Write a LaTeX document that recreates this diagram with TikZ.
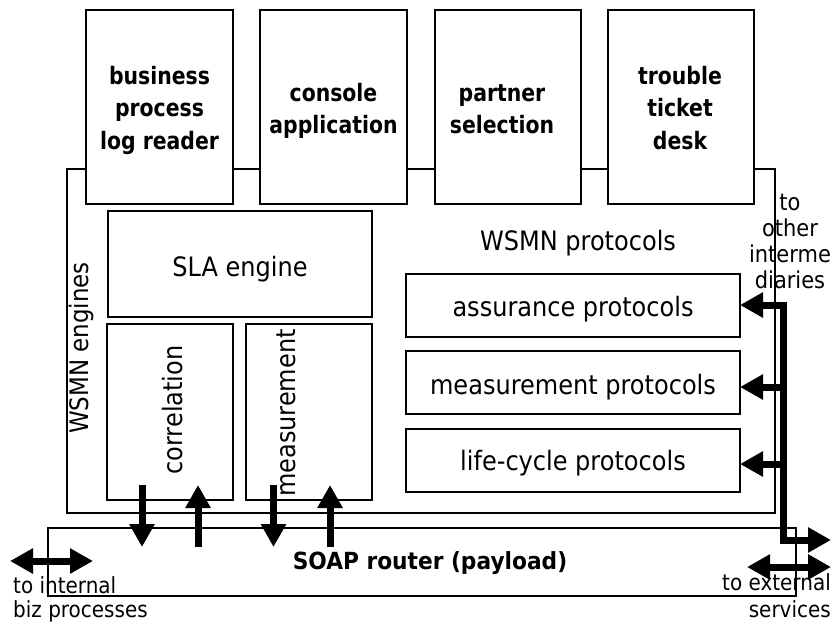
\documentclass[tikz,border=0pt]{standalone}
\usepackage{fontspec}
\setmainfont{DejaVu Sans}[FakeStretch=0.9]
\newfontfamily\bdfont{DejaVu Sans}[FakeStretch=0.85]
\newfontfamily\sbfont{DejaVu Sans}[FakeStretch=0.92]
\usetikzlibrary{arrows.meta}
\begin{document}
\begin{tikzpicture}[x=1pt,y=-1pt,
  box/.style={draw, line width=1.1pt, fill=white, inner sep=0pt, outer sep=0pt},
  frame/.style={draw, line width=1.1pt, inner sep=0pt, outer sep=0pt},
  toplabel/.style={align=center, inner sep=0pt, font=\bdfont\fontsize{24}{32.5}\selectfont\bfseries},
  txt/.style={inner sep=0pt, font=\fontsize{26.7}{30}\selectfont},
  small/.style={inner sep=0pt, font=\fontsize{22.2}{24}\selectfont},
  fattip/.tip={Triangle[width=24pt,length=23pt]},
  fat/.style={line width=7pt, line join=miter, -fattip},
  fatboth/.style={line width=7pt, line join=miter, fattip-fattip}]
\useasboundingbox (0,0) rectangle (832,624);
\fill[white] (0,0) rectangle (832,624);

% outer WSMN engines frame
\node[frame, minimum width=708pt, minimum height=344pt] (outer) at (421,341) {};

% top application boxes
\node[box, minimum width=147pt, minimum height=194pt] (bpl) at (159.5,107) {};
\node[box, minimum width=147pt, minimum height=194pt] (con) at (333.5,107) {};
\node[box, minimum width=146pt, minimum height=194pt] (par) at (508,107) {};
\node[box, minimum width=146pt, minimum height=194pt] (ttd) at (681,107) {};
\node[toplabel] (tbpl) at (159.5,110) {business\\process\\log reader};
\node[toplabel] (tcon) at (333.5,111) {console\\application};
\node[toplabel] (tpar) at (502,109) {partner\\selection};
\node[toplabel] (tttd) at (680,108) {trouble\\ticket\\desk};

% engines
\node[box, minimum width=264pt, minimum height=106pt] (sla) at (240,264) {};
\node[txt, anchor=base] (tsla) at (240,276) {SLA engine};
\node[box, minimum width=126pt, minimum height=176pt] (cor) at (170,412) {};
\node[box, minimum width=126pt, minimum height=176pt] (mea) at (309,412) {};
\node[txt, rotate=90, anchor=base] (tcor) at (182,410) {correlation};
\node[txt, rotate=90, anchor=base] (tmea) at (295,413) {measurement};
\node[inner sep=0pt, rotate=90, anchor=base, font=\fontsize{25.5}{29}\selectfont] (twe) at (88,348) {WSMN engines};

% protocols
\node[txt, anchor=base] (twp) at (578,250) {WSMN protocols};
\node[box, minimum width=334pt, minimum height=63pt] (pa) at (573,305.5) {};
\node[box, minimum width=334pt, minimum height=63pt] (pm) at (573,382.5) {};
\node[box, minimum width=334pt, minimum height=63pt] (pl) at (573,460.5) {};
\node[txt, anchor=base] (tpa) at (573,316) {assurance protocols};
\node[txt, anchor=base] (tpm) at (573,394) {measurement protocols};
\node[txt, anchor=base] (tpl) at (573,470) {life-cycle protocols};

% SOAP router
\node[frame, minimum width=748pt, minimum height=68pt] (soap) at (422,562) {};
\node[inner sep=0pt, anchor=base, font=\sbfont\fontsize{23.6}{26}\selectfont\bfseries] (tsoap) at (430,569) {SOAP router (payload)};

% vertical arrows between engines and router
\coordinate (c1s) at (142,485); \coordinate (c1e) at (142,547);
\coordinate (c2s) at (198,547); \coordinate (c2e) at (198,485);
\coordinate (m1s) at (273.5,485); \coordinate (m1e) at (273.5,547);
\coordinate (m2s) at (330,547); \coordinate (m2e) at (330,485);
\draw[fat] (c1s) -- (c1e);
\draw[fat] (c2s) -- (c2e);
\draw[fat] (m1s) -- (m1e);
\draw[fat] (m2s) -- (m2e);

% right-hand bus to protocols and external
\coordinate (a1) at (740,305); \coordinate (a2) at (740,387); \coordinate (a3) at (740,464);
\coordinate (j1) at (783,305); \coordinate (j2) at (783,387); \coordinate (j3) at (783,464);
\coordinate (j4) at (783,540); \coordinate (ext) at (831,540);
\draw[fatboth] (a1) -- (j1) -- (j4) -- (ext);
\draw[fat] (j2) -- (a2);
\draw[fat] (j3) -- (a3);

% bottom double arrows
\coordinate (il) at (10,561); \coordinate (ir) at (93,561);
\coordinate (el) at (747,567); \coordinate (er) at (831,567);
\draw[fatboth] (il) -- (ir);
\draw[fatboth] (el) -- (er);

% side labels
\node[inner sep=0pt, align=center, font=\fontsize{23.3}{26}\selectfont] (tother) at (790,241.5) {to\\other\\interme\\diaries};
\node[small, align=left, anchor=west] (tint) at (13,599) {to internal\\biz processes};
\node[inner sep=0pt, align=right, anchor=east, font=\fontsize{22.2}{27}\selectfont] (text) at (831,596) {to external\\services};
\end{tikzpicture}
\end{document}
